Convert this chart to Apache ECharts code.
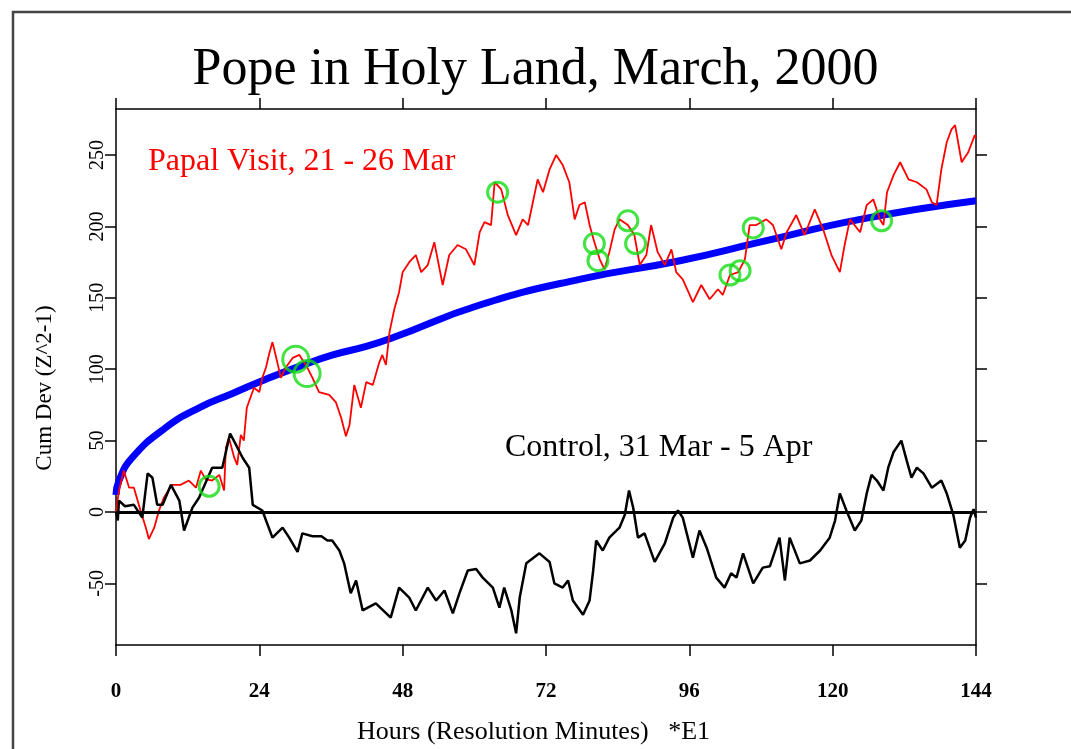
<!DOCTYPE html>
<html>
<head>
<meta charset="utf-8">
<title>Pope in Holy Land, March, 2000</title>
<script src="https://cdn.jsdelivr.net/npm/echarts@6/dist/echarts.min.js"></script>
<style>
  html, body { margin: 0; padding: 0; background: #fff; }
  #chart { width: 1071px; height: 749px; }
</style>
</head>
<body>
<div id="chart"></div>
<script>
// tick labels
var hourTicks = [0, 24, 48, 72, 96, 120, 144]
var cumDevTicks = [-50, 0, 50, 100, 150, 200, 250]

// [hour, cum dev]
var papalVisit = [
  [0, 0], [0.5, 15], [1.3, 29], [2.2, 17], [3.0, 17], [4.1, 1], [5.0, -11], [5.5, -19],
  [6.4, -11], [7.2, 1], [8.0, 10], [9.4, 19], [10.8, 19], [12.2, 22], [13.4, 17], [14.2, 29],
  [15.0, 23], [16.1, 22], [17.3, 26], [18.1, 15], [18.4, 45], [18.9, 52], [19.8, 38], [20.3, 33],
  [20.9, 54], [21.4, 50], [21.9, 73], [23.1, 87], [24.0, 84], [24.5, 94], [25.1, 101], [25.6, 110],
  [26.2, 119], [27.0, 105], [27.6, 94], [28.4, 101], [29.6, 108], [30.7, 110], [31.8, 103], [32.9, 94],
  [34.0, 84], [35.7, 82], [36.8, 77], [37.7, 66], [38.5, 53], [39.1, 61], [39.9, 89], [41.0, 73],
  [41.9, 91], [43.0, 89], [44.1, 105], [44.6, 110], [45.2, 103], [45.8, 126], [46.6, 142], [47.4, 154],
  [48.0, 168], [49.1, 175], [50.2, 180], [51.1, 168], [52.2, 173], [53.3, 189], [54.7, 159], [55.8, 180],
  [57.2, 187], [58.6, 184], [60.0, 173], [60.9, 196], [61.7, 203], [62.8, 201], [63.4, 231], [64.5, 226],
  [65.6, 208], [67.0, 194], [68.1, 205], [69.0, 201], [69.8, 217], [70.6, 233], [71.5, 224], [72.6, 240],
  [73.7, 250], [74.8, 243], [75.9, 231], [76.8, 205], [77.6, 215], [78.5, 217], [79.3, 201], [80.1, 189],
  [81.0, 177], [81.8, 170], [82.6, 182], [83.5, 198], [84.3, 205], [85.7, 201], [86.8, 194], [87.7, 173],
  [88.8, 180], [89.6, 201], [90.7, 182], [91.9, 173], [93.0, 184], [93.8, 168], [94.9, 163], [96.6, 147],
  [98.0, 159], [99.4, 149], [100.8, 156], [101.6, 152], [102.8, 166], [104.2, 168], [105.3, 177], [106.1, 201],
  [107.2, 201], [108.9, 205], [110.0, 201], [111.4, 184], [112.3, 196], [113.9, 208], [115.3, 194], [117.0, 212],
  [118.4, 198], [119.8, 180], [121.2, 168], [122.0, 187], [122.9, 205], [124.6, 196], [125.7, 215], [126.8, 219],
  [127.9, 205], [128.5, 201], [129.1, 224], [130.2, 236], [131.3, 245], [132.7, 233], [134.1, 231], [135.7, 226],
  [136.6, 217], [137.4, 215], [138.2, 240], [139.1, 259], [139.9, 268], [140.5, 271], [141.6, 245], [142.7, 252],
  [143.8, 264], [144, 262]
]

var control = [
  [0, 0], [0.3, -6], [0.5, 8], [1.5, 4], [3.0, 5], [4.4, -4], [5.3, 27], [6.1, 24],
  [6.9, 5], [7.8, 5], [9.2, 19], [10.6, 8], [11.4, -13], [12.8, 3], [13.9, 10], [16.1, 31],
  [17.8, 31], [19.1, 55], [20.1, 47], [21.2, 38], [22.3, 31], [22.9, 5], [24.5, 1], [26.2, -18],
  [27.9, -11], [29.0, -18], [30.4, -28], [31.2, -15], [32.9, -17], [34.4, -17], [35.4, -20], [36.2, -20],
  [37.4, -27], [38.2, -36], [39.3, -57], [40.2, -48], [41.3, -69], [43.5, -64], [46.0, -74], [47.4, -53],
  [49.1, -60], [50.2, -69], [52.2, -53], [53.6, -62], [55.0, -55], [56.4, -71], [57.5, -57], [58.9, -41],
  [60.3, -40], [61.4, -46], [63.1, -53], [64.2, -67], [65.0, -53], [66.2, -69], [67.0, -85], [67.6, -60],
  [68.7, -36], [70.9, -29], [72.6, -35], [73.4, -50], [74.8, -53], [75.7, -48], [76.5, -62], [78.2, -72],
  [79.3, -62], [79.9, -41], [80.4, -20], [81.5, -27], [82.6, -18], [84.3, -11], [85.2, -2], [85.9, 15],
  [86.6, 3], [87.4, -18], [88.5, -15], [90.2, -35], [91.9, -22], [93.3, -4], [94.1, 1], [94.9, -4],
  [96.6, -32], [97.7, -13], [98.9, -25], [100.5, -46], [101.9, -53], [103.0, -43], [103.9, -46], [105.0, -29],
  [106.7, -50], [108.3, -39], [109.5, -38], [111.1, -18], [112.0, -48], [112.8, -18], [114.5, -36], [116.2, -34],
  [117.9, -27], [119.5, -18], [120.4, -6], [121.2, 13], [122.3, 1], [123.7, -13], [124.8, -6], [125.7, 13],
  [126.5, 26], [127.4, 22], [128.5, 15], [129.3, 31], [130.2, 42], [131.5, 50], [132.4, 36], [133.2, 24],
  [134.1, 31], [135.2, 27], [136.6, 17], [138.2, 22], [139.1, 13], [140.2, -2], [141.3, -25], [142.2, -20],
  [143.0, -4], [143.6, 2], [144, -4]
]

// blue significance envelope
var envelope = [
  [0, 12], [0.5, 22], [2.7, 38], [8.3, 59], [13.9, 73], [19.5, 83], [25.1, 93], [30.7, 102],
  [36.3, 110], [41.9, 116], [46.3, 122], [60.9, 145], [77.6, 163], [94.4, 176], [107.8, 189],
  [124.6, 205], [144, 218]
]

// green circled events
var eventsSmall = [
  [15.6, 18], [63.9, 224], [80.1, 188], [80.7, 176], [85.7, 204], [87.0, 188],
  [102.8, 166], [104.5, 169], [106.7, 199], [128.2, 204]
]
var eventsLarge = [[30.1, 107], [32.0, 97]]

var serif = '"Liberation Serif", "Times New Roman", serif'

var chart = echarts.init(document.getElementById('chart'))

var boxAxisLine = { onZero: false, lineStyle: { color: '#000', width: 1.5 } }
var boxTick = { length: 11, lineStyle: { color: '#000', width: 1.5 } }

var option = {
  animation: false,
  backgroundColor: '#fff',
  title: {
    text: 'Pope in Holy Land, March, 2000',
    left: 'center',
    top: 39,
    textStyle: { fontFamily: serif, fontSize: 52, fontWeight: 'normal', color: '#000' }
  },
  grid: { left: 116, right: 95, top: 109, bottom: 104, outerBoundsMode: 'none' },
  xAxis: [
    {
      type: 'value', min: 0, max: 144, position: 'bottom',
      axisLine: boxAxisLine,
      axisTick: Object.assign({ customValues: hourTicks }, boxTick),
      splitLine: { show: false },
      axisLabel: {
        customValues: hourTicks, margin: 36, color: '#000',
        fontFamily: serif, fontSize: 21, fontWeight: 'bold'
      },
      name: 'Hours (Resolution Minutes)   *E1',
      nameLocation: 'middle',
      nameGap: 74,
      nameTextStyle: { fontFamily: serif, fontSize: 26, color: '#000', padding: [0, 25, 0, 0] }
    },
    {
      type: 'value', min: 0, max: 144, position: 'top',
      axisLine: boxAxisLine,
      axisTick: Object.assign({ customValues: hourTicks }, boxTick),
      splitLine: { show: false },
      axisLabel: { show: false }
    }
  ],
  yAxis: [
    {
      type: 'value', min: -93.2, max: 282.3, position: 'left',
      axisLine: boxAxisLine,
      axisTick: Object.assign({ customValues: cumDevTicks }, boxTick),
      splitLine: { show: false },
      axisLabel: {
        customValues: cumDevTicks, rotate: 90, margin: 8, color: '#000',
        fontFamily: serif, fontSize: 20
      },
      name: 'Cum Dev (Z^2-1)',
      nameLocation: 'middle',
      nameGap: 60,
      nameTextStyle: { fontFamily: serif, fontSize: 23, color: '#000', padding: [0, 22, 0, 0] }
    },
    {
      type: 'value', min: -93.2, max: 282.3, position: 'right',
      axisLine: boxAxisLine,
      axisTick: Object.assign({ customValues: cumDevTicks }, boxTick),
      splitLine: { show: false },
      axisLabel: { show: false }
    }
  ],
  graphic: [
    // outer frame, its right and bottom edges fall off the picture
    {
      type: 'rect', silent: true, z: 0,
      shape: { x: 13, y: 12, width: 1200, height: 900 },
      style: { fill: 'none', stroke: '#444', lineWidth: 2.5 }
    },
    {
      type: 'text', left: 148, top: 146,
      style: { text: 'Papal Visit, 21 - 26 Mar', fill: '#ff0000', font: '32px ' + serif }
    },
    {
      type: 'text', left: 505, top: 432,
      style: { text: 'Control, 31 Mar - 5 Apr', fill: '#000', font: '32px ' + serif }
    }
  ],
  series: [
    {
      name: 'envelope', type: 'line', data: envelope, smooth: true,
      showSymbol: false, lineStyle: { color: '#0000ff', width: 7 }, z: 2
    },
    {
      name: 'Papal Visit', type: 'line', data: papalVisit,
      showSymbol: false, lineStyle: { color: '#ff0000', width: 1.8 }, z: 3
    },
    {
      name: 'Control', type: 'line', data: control,
      showSymbol: false, lineStyle: { color: '#000', width: 2.5 }, z: 4,
      markLine: {
        silent: true, symbol: ['none', 'none'], label: { show: false },
        lineStyle: { color: '#000', width: 3, type: 'solid' },
        data: [{ yAxis: 0 }]
      }
    },
    {
      name: 'events', type: 'scatter', data: eventsSmall, symbolSize: 20, z: 5,
      itemStyle: { color: 'rgba(0,0,0,0)', borderColor: '#14dc14', borderWidth: 3 }
    },
    {
      name: 'events large', type: 'scatter', data: eventsLarge, symbolSize: 26, z: 5,
      itemStyle: { color: 'rgba(0,0,0,0)', borderColor: '#14dc14', borderWidth: 3 }
    }
  ]
}
chart.setOption(option)
</script>
</body>
</html>
